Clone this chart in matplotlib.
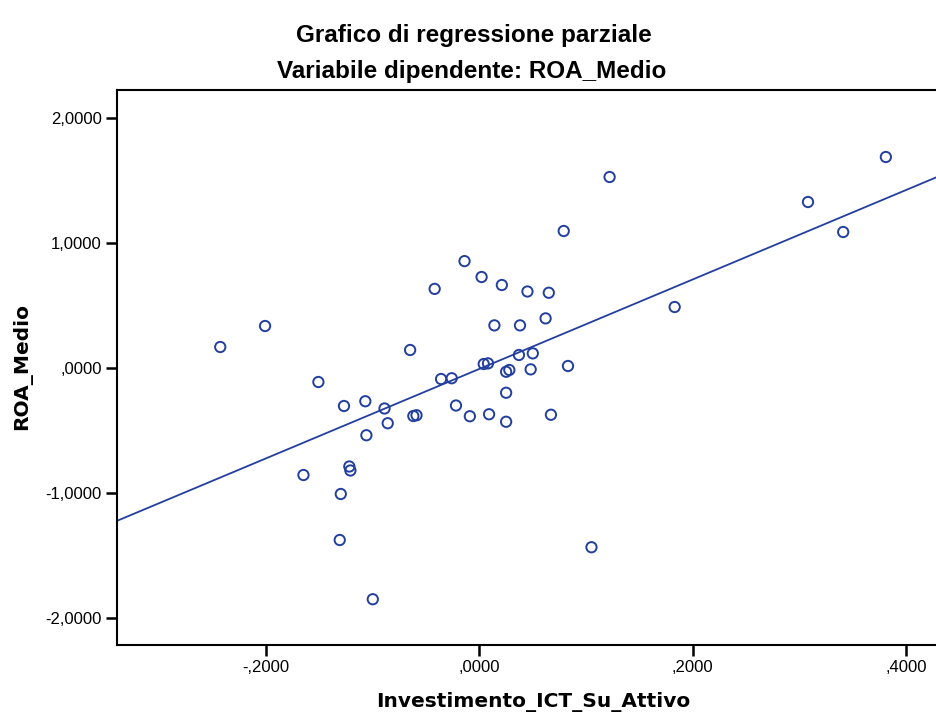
import matplotlib
matplotlib.use("Agg")
import matplotlib.pyplot as plt
from matplotlib.ticker import FuncFormatter
import numpy as np

# partial regression residuals
ict_res = [-0.243, -0.201, -0.151, -0.165, -0.127, -0.130, -0.122, -0.121, -0.131,
           -0.107, -0.106, -0.089, -0.086, -0.100, -0.065, -0.062, -0.059, -0.042,
           -0.036, -0.026, -0.022, -0.014, -0.009, 0.002, 0.004, 0.008, 0.009,
           0.014, 0.021, 0.025, 0.028, 0.025, 0.025, 0.038, 0.037, 0.045, 0.048,
           0.050, 0.062, 0.065, 0.067, 0.079, 0.083, 0.105, 0.122, 0.183, 0.308,
           0.341, 0.381]
roa_res = [0.166, 0.334, -0.114, -0.858, -0.306, -1.010, -0.790, -0.822, -1.378,
           -0.268, -0.540, -0.326, -0.444, -1.852, 0.142, -0.386, -0.380, 0.631,
           -0.090, -0.084, -0.302, 0.853, -0.388, 0.726, 0.030, 0.035, -0.372,
           0.339, 0.662, -0.032, -0.018, -0.200, -0.432, 0.339, 0.102, 0.610,
           -0.013, 0.115, 0.395, 0.600, -0.376, 1.094, 0.014, -1.436, 1.526,
           0.486, 1.326, 1.086, 1.686]

fit_slope = 3.578
fit_intercept = -0.009

xlim = (-0.3398, 0.428)
ylim = (-2.218, 2.222)
x_ticks = [-0.2, 0.0, 0.2, 0.4]
y_ticks = [-2, -1, 0, 1, 2]

blue = '#233f9e'

def it_fmt(v, pos):
    # SPSS style: comma decimal, no leading zero
    s = f"{v:.4f}".replace('.', ',')
    if s.startswith('0,'):
        s = s[1:]
    elif s.startswith('-0,'):
        s = s[2:] if abs(v) < 1e-9 else '-' + s[2:]
    return s

W, H = 936, 713
fig = plt.figure(figsize=(W / 100, H / 100), dpi=100)
ax = fig.add_axes([117 / W, (H - 645) / H, (936 - 117) / W, (645 - 90) / H])

ax.scatter(ict_res, roa_res, s=55, facecolors='none', edgecolors=blue, linewidths=1.4, zorder=3)

xx = np.array(xlim)
ax.plot(xx, fit_slope * xx + fit_intercept, color=blue, lw=1.3, zorder=2)

ax.set_xlim(*xlim)
ax.set_ylim(*ylim)
ax.set_xticks(x_ticks)
ax.set_yticks(y_ticks)
ax.xaxis.set_major_formatter(FuncFormatter(it_fmt))
ax.yaxis.set_major_formatter(FuncFormatter(it_fmt))
ax.tick_params(axis='both', direction='out', length=8, width=1.8, labelsize=12, pad=3)
for lab in ax.get_xticklabels() + ax.get_yticklabels():
    lab.set_family('Liberation Sans')

for side in ['left', 'bottom', 'top']:
    ax.spines[side].set_linewidth(1.5)
ax.spines['right'].set_visible(False)

fig.text(474 / W, 1 - 42 / H, 'Grafico di regressione parziale', ha='center', va='baseline',
         fontsize=17.5, fontweight='bold', family='Liberation Sans')
fig.text(472 / W, 1 - 78 / H, 'Variabile dipendente: ROA_Medio', ha='center', va='baseline',
         fontsize=17.5, fontweight='bold', family='Liberation Sans')
fig.text(533 / W, 1 - 707 / H, 'Investimento_ICT_Su_Attivo', ha='center', va='baseline',
         fontsize=14.5, fontweight='bold', family='DejaVu Sans')
fig.text(22 / W, 1 - 366 / H, 'ROA_Medio', ha='center', va='center', rotation=90,
         fontsize=14.5, fontweight='bold', family='DejaVu Sans')

fig.savefig('out.png', dpi=100)
